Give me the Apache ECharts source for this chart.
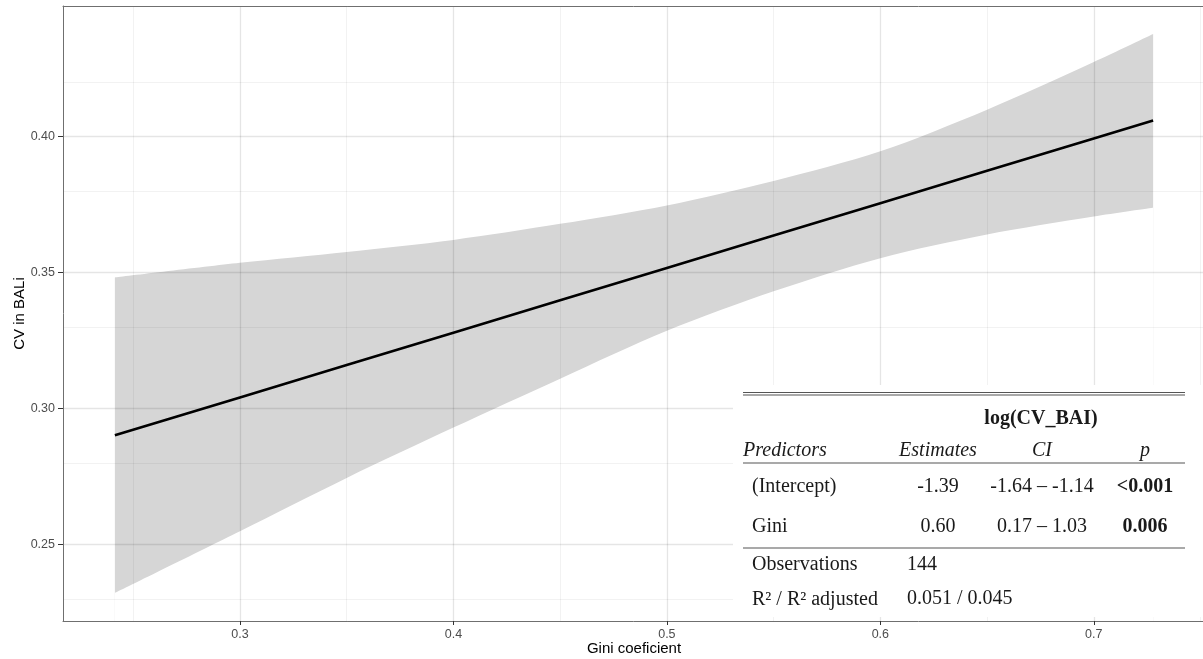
<!DOCTYPE html>
<html>
<head>
<meta charset="utf-8">
<title>CV in BALi vs Gini coeficient</title>
<script src="https://cdn.jsdelivr.net/npm/echarts@6/dist/echarts.min.js"></script>
<style>
  html, body { margin: 0; padding: 0; background: #fff; }
  #chart { width: 1203px; height: 659px; }
</style>
</head>
<body>
<div id="chart"></div>
<script>
// values
var giniX  = [0.2414, 0.30, 0.35, 0.40, 0.45, 0.50, 0.55, 0.60, 0.65, 0.70, 0.7278];
var fitY   = [0.2902, 0.3041, 0.3160, 0.3279, 0.3398, 0.3517, 0.3636, 0.3755, 0.3874, 0.3993, 0.4059];
var lowerY = [0.2322, 0.2549, 0.2745, 0.2930, 0.3110, 0.3286, 0.3431, 0.3553, 0.3640, 0.3706, 0.3738];
var upperY = [0.3482, 0.3536, 0.3576, 0.3620, 0.3679, 0.3747, 0.3837, 0.3946, 0.4099, 0.4274, 0.4377];

var xMajorTicks = [0.3, 0.4, 0.5, 0.6, 0.7];
var xMinorTicks = [0.25, 0.35, 0.45, 0.55, 0.65, 0.75];
var yMajorTicks = [0.25, 0.30, 0.35, 0.40];
var yMinorTicks = [0.225, 0.275, 0.325, 0.375, 0.425];

// regression table (inset)
var tableTitle  = 'log(CV_BAI)';
var tableHeader = ['Predictors', 'Estimates', 'CI', 'p'];
var tableRows   = [
    ['(Intercept)', '-1.39', '-1.64 \u2013 -1.14', '<0.001'],
    ['Gini', '0.60', '0.17 \u2013 1.03', '0.006']
];
var tableFooter = [
    ['Observations', '144'],
    ['R\u00b2 / R\u00b2 adjusted', '0.051 / 0.045']
];

var SERIF = '"Liberation Serif", "DejaVu Serif", serif';
var SANS = '"Liberation Sans", Arial, sans-serif';
var TXT = '#1a1a1a';
var BORDER = '#6f6f6f';

function pairs(xs, ys) {
    return xs.map(function (x, i) { return [x, ys[i]]; });
}

// grid lines as mark lines, drawn translucent so they darken under the ribbon
var gridLines = [];
xMinorTicks.forEach(function (v) { gridLines.push({ xAxis: v, lineStyle: { color: 'rgba(0,0,0,0.05)', width: 1, type: 'solid' } }); });
yMinorTicks.forEach(function (v) { gridLines.push({ yAxis: v, lineStyle: { color: 'rgba(0,0,0,0.05)', width: 1, type: 'solid' } }); });
xMajorTicks.forEach(function (v) { gridLines.push({ xAxis: v, lineStyle: { color: 'rgba(0,0,0,0.1)', width: 1.3, type: 'solid' } }); });
yMajorTicks.forEach(function (v) { gridLines.push({ yAxis: v, lineStyle: { color: 'rgba(0,0,0,0.1)', width: 1.3, type: 'solid' } }); });

// table graphic
var colCenter = [0, 938, 1042, 1145];
var rowY = [487, 527];
var tableGraphics = [
    { type: 'rect', shape: { x: 733, y: 385, width: 480, height: 232 }, style: { fill: '#fff' }, z: 100 },
    { type: 'line', shape: { x1: 743, y1: 392.5, x2: 1185, y2: 392.5 }, style: { stroke: '#555', lineWidth: 1.2 }, z: 101 },
    { type: 'line', shape: { x1: 743, y1: 395, x2: 1185, y2: 395 }, style: { stroke: '#555', lineWidth: 1.2 }, z: 101 },
    { type: 'line', shape: { x1: 743, y1: 463, x2: 1185, y2: 463 }, style: { stroke: '#555', lineWidth: 1.2 }, z: 101 },
    { type: 'line', shape: { x1: 743, y1: 548, x2: 1185, y2: 548 }, style: { stroke: '#555', lineWidth: 1.2 }, z: 101 },
    { type: 'text', z: 101, style: { text: tableTitle, x: 1041, y: 419, align: 'center', verticalAlign: 'middle',
        font: 'bold 20px ' + SERIF, fill: TXT } }
];
tableHeader.forEach(function (h, i) {
    tableGraphics.push({ type: 'text', z: 101, style: {
        text: h, x: i === 0 ? 743 : colCenter[i], y: 451, align: i === 0 ? 'left' : 'center', verticalAlign: 'middle',
        font: 'italic 20px ' + SERIF, fill: TXT } });
});
tableRows.forEach(function (row, r) {
    row.forEach(function (cell, i) {
        tableGraphics.push({ type: 'text', z: 101, style: {
            text: cell, x: i === 0 ? 752 : colCenter[i], y: rowY[r], align: i === 0 ? 'left' : 'center', verticalAlign: 'middle',
            font: (i === 3 ? 'bold ' : '') + '20px ' + SERIF, fill: TXT } });
    });
});
tableFooter.forEach(function (row, r) {
    tableGraphics.push({ type: 'text', z: 101, style: { text: row[0], x: 752, y: 565 + r * 35, align: 'left',
        verticalAlign: 'middle', font: '20px ' + SERIF, fill: TXT } });
    tableGraphics.push({ type: 'text', z: 101, style: { text: row[1], x: 907, y: 565 + r * 34, align: 'left',
        verticalAlign: 'middle', font: '20px ' + SERIF, fill: TXT } });
});

var chart = echarts.init(document.getElementById('chart'), null, { renderer: 'canvas' });

var option = {
    backgroundColor: '#fff',
    animation: false,
    grid: {
        left: 63, top: 6, right: -2, bottom: 38,
        outerBoundsMode: 'none',
        containLabel: false,
        show: false
    },
    xAxis: [{
        type: 'value',
        min: 0.2171, max: 0.7521,
        z: 20,
        name: 'Gini coeficient',
        nameLocation: 'middle',
        nameGap: 20,
        nameMoveOverlap: false,
        nameTextStyle: { color: '#000', fontSize: 15, fontFamily: SANS },
        axisLine: { show: true, onZero: false, lineStyle: { color: BORDER, width: 1 } },
        axisTick: { show: true, length: 4, customValues: xMajorTicks, lineStyle: { color: '#333', width: 1 } },
        axisLabel: {
            customValues: xMajorTicks, margin: 7, color: '#4d4d4d', fontSize: 12.5, fontFamily: SANS,
            formatter: function (v) { return v.toFixed(1); }
        },
        splitLine: { show: false }
    }, {
        // top edge of the panel border
        type: 'value',
        position: 'top',
        min: 0.2171, max: 0.7521,
        z: 20,
        axisLine: { show: true, onZero: false, lineStyle: { color: BORDER, width: 1 } },
        axisTick: { show: false },
        axisLabel: { show: false },
        splitLine: { show: false }
    }],
    yAxis: {
        type: 'value',
        min: 0.2219, max: 0.4480,
        z: 20,
        name: 'CV in BALi',
        nameLocation: 'middle',
        nameGap: 36,
        nameMoveOverlap: false,
        nameTextStyle: { color: '#000', fontSize: 15, fontFamily: SANS },
        axisLine: { show: true, onZero: false, lineStyle: { color: BORDER, width: 1 } },
        axisTick: { show: true, length: 5, customValues: yMajorTicks, lineStyle: { color: '#333', width: 1 } },
        axisLabel: {
            customValues: yMajorTicks, margin: 8, color: '#4d4d4d', fontSize: 12.5, fontFamily: SANS,
            formatter: function (v) { return v.toFixed(2); }
        },
        splitLine: { show: false }
    },
    series: [
        {
            // ribbon: grey fill under the upper bound ...
            name: 'upper',
            type: 'line',
            data: pairs(giniX, upperY),
            smooth: 0.3,
            symbol: 'none',
            lineStyle: { opacity: 0 },
            areaStyle: { color: '#d6d6d6', opacity: 1, origin: 'start' },
            silent: true,
            z: 2
        },
        {
            // ... cleared again under the lower bound
            name: 'lower',
            type: 'line',
            data: pairs(giniX, lowerY),
            smooth: 0.3,
            symbol: 'none',
            lineStyle: { opacity: 0 },
            areaStyle: { color: '#ffffff', opacity: 1, origin: 'start' },
            silent: true,
            z: 3
        },
        {
            name: 'grid',
            type: 'line',
            data: [[giniX[0], fitY[0]]],
            symbol: 'none',
            lineStyle: { opacity: 0 },
            silent: true,
            z: 4,
            markLine: { silent: true, z: 5, symbol: ['none', 'none'], label: { show: false }, data: gridLines, animation: false }
        },
        {
            name: 'fit',
            type: 'line',
            data: pairs(giniX, fitY),
            symbol: 'none',
            lineStyle: { color: '#000', width: 2.6 },
            silent: true,
            z: 12
        }
    ],
    graphic: tableGraphics
};

chart.setOption(option);
</script>
</body>
</html>
